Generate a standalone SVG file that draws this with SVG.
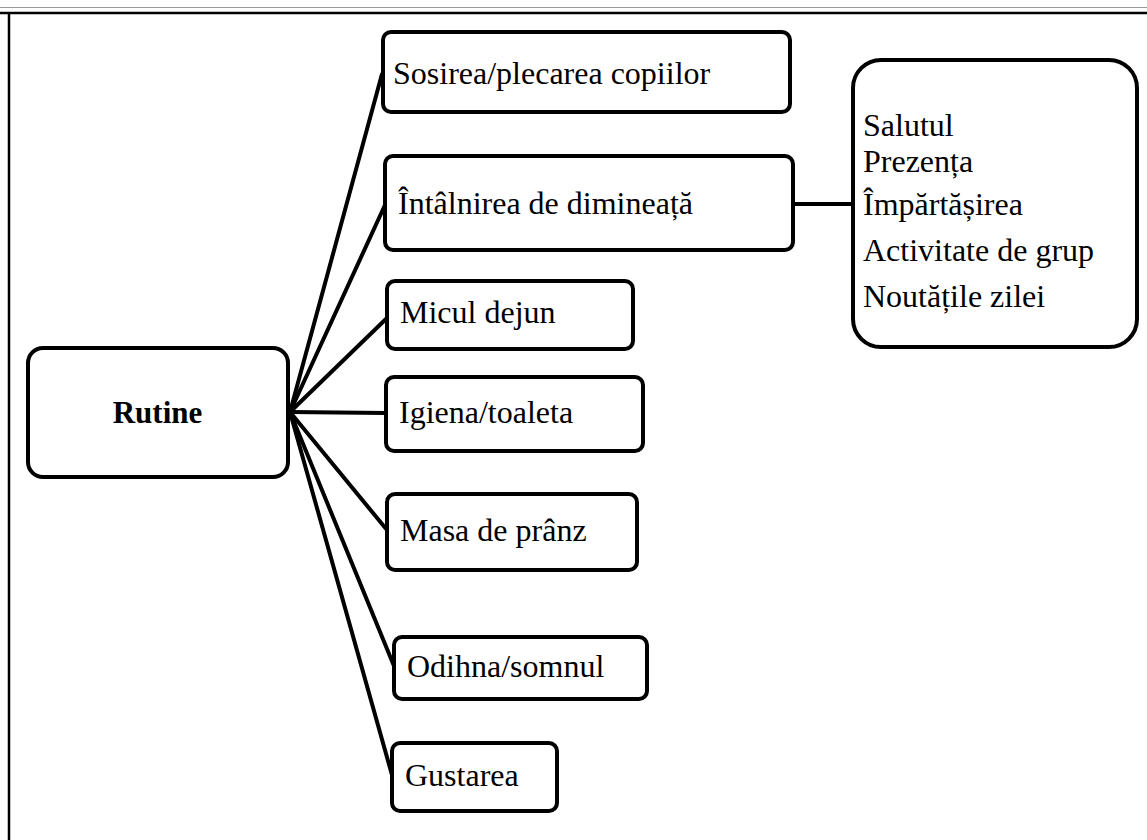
<svg xmlns="http://www.w3.org/2000/svg" width="1147" height="840" viewBox="0 0 1147 840">
<style>
.box{fill:#fff;stroke:#000;stroke-width:4}
.ln{stroke:#000;stroke-width:4;fill:none;stroke-linecap:round}
.t{font-family:"Liberation Serif","Times New Roman",serif;font-size:32px;fill:#000}
.b{font-weight:bold;font-size:31px}
</style>
<rect width="1147" height="840" fill="#fff"/>
<g id="frame">
<line x1="0" y1="7.5" x2="1147" y2="7.5" stroke="#999" stroke-width="1"/>
<line x1="0" y1="13" x2="1147" y2="13" stroke="#000" stroke-width="2.5"/>
<line x1="9" y1="13" x2="9" y2="840" stroke="#000" stroke-width="2.5"/>
</g>
<g id="connectors">
<line class="ln" x1="290" y1="412" x2="382" y2="74"/>
<line class="ln" x1="290" y1="412" x2="385" y2="205"/>
<line class="ln" x1="290" y1="412" x2="387" y2="318"/>
<line class="ln" x1="290" y1="412" x2="386" y2="413"/>
<line class="ln" x1="290" y1="412" x2="387" y2="530"/>
<line class="ln" x1="290" y1="412" x2="394" y2="666"/>
<line class="ln" x1="290" y1="412" x2="392" y2="775"/>
<line class="ln" x1="793" y1="204" x2="853" y2="204"/>
</g>
<g id="rutine">
<rect class="box" x="28" y="348" width="260" height="129" rx="15"/>
<text class="t b" x="157.5" y="423" text-anchor="middle">Rutine</text>
</g>
<g id="sosirea">
<rect class="box" x="383" y="32" width="407" height="80" rx="8"/>
<text class="t" x="393" y="84">Sosirea/plecarea copiilor</text>
</g>
<g id="intalnirea">
<rect class="box" x="385" y="156" width="408" height="94" rx="8"/>
<text class="t" x="398" y="214">Întâlnirea de dimineață</text>
</g>
<g id="micul">
<rect class="box" x="387" y="281" width="246" height="68" rx="8"/>
<text class="t" x="400" y="323">Micul dejun</text>
</g>
<g id="igiena">
<rect class="box" x="386" y="377" width="257" height="74" rx="8"/>
<text class="t" x="399" y="423">Igiena/toaleta</text>
</g>
<g id="masa">
<rect class="box" x="387" y="494" width="250" height="76" rx="8"/>
<text class="t" x="400" y="541">Masa de prânz</text>
</g>
<g id="odihna">
<rect class="box" x="394" y="637" width="253" height="62" rx="8"/>
<text class="t" x="407" y="677">Odihna/somnul</text>
</g>
<g id="gustarea">
<rect class="box" x="392" y="743" width="165" height="68" rx="8"/>
<text class="t" x="405" y="786">Gustarea</text>
</g>
<g id="detalii">
<rect class="box" x="853" y="60" width="284" height="287" rx="28"/>
<text class="t" x="863" y="136">Salutul</text>
<text class="t" x="863" y="172">Prezența</text>
<text class="t" x="863" y="215">Împărtășirea</text>
<text class="t" x="863" y="261">Activitate de grup</text>
<text class="t" x="863" y="307">Noutățile zilei</text>
</g>
</svg>
